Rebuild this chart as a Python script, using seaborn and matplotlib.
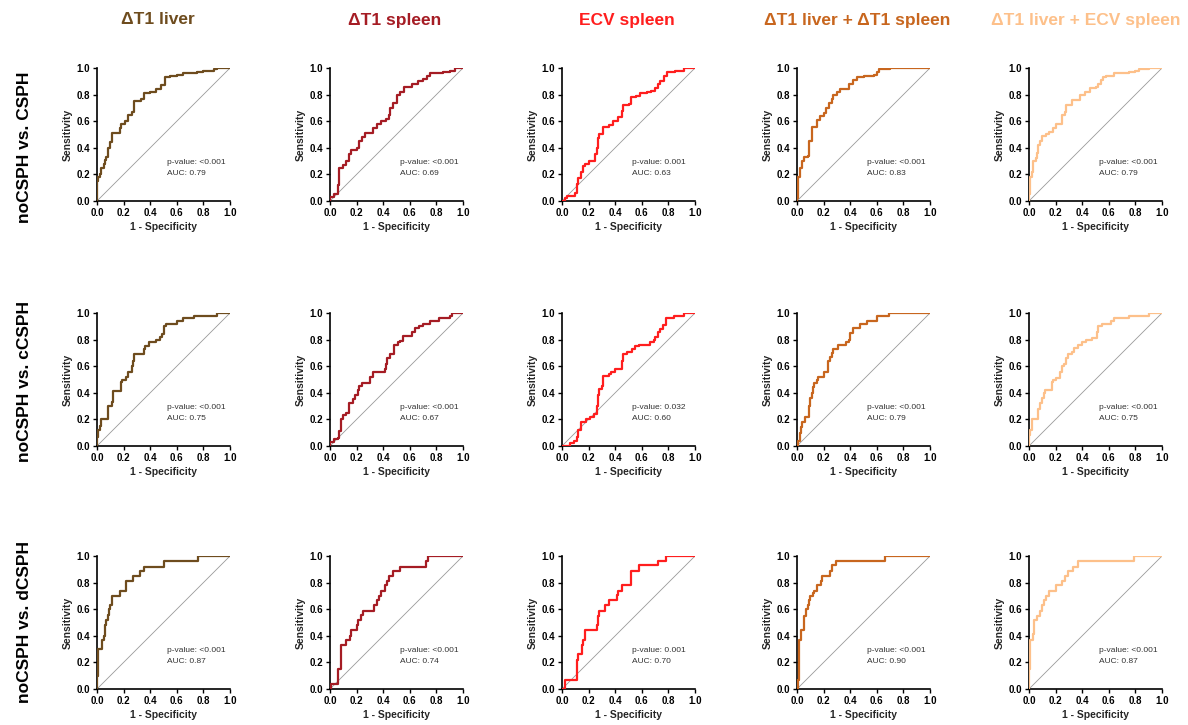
import matplotlib
matplotlib.use("Agg")
import matplotlib.pyplot as plt
import seaborn as sns
import numpy as np

sns.set_style("white")
plt.rcParams['font.family'] = ['Liberation Sans', 'DejaVu Sans']

# ---------------- data ----------------
columns = ["ΔT1 liver", "ΔT1 spleen", "ECV spleen", "ΔT1 liver + ΔT1 spleen", "ΔT1 liver + ECV spleen"]
col_colors = ["#6E4C1E", "#A51C24", "#FF1E1E", "#C8661E", "#FDC08A"]
rows = ["noCSPH vs. CSPH", "noCSPH vs. cCSPH", "noCSPH vs. dCSPH"]

p_values = [["<0.001", "<0.001", "0.001", "<0.001", "<0.001"],
            ["<0.001", "<0.001", "0.032", "<0.001", "<0.001"],
            ["<0.001", "<0.001", "0.001", "<0.001", "<0.001"]]
auc_values = [["0.79", "0.69", "0.63", "0.83", "0.79"],
              ["0.75", "0.67", "0.60", "0.79", "0.75"],
              ["0.87", "0.74", "0.70", "0.90", "0.87"]]

# Row 1: noCSPH vs. CSPH  (x = 1 - specificity where sensitivity jumps, y = new sensitivity)
fpr_r1_liver = [0, 0, 0.01, 0.02, 0.03, 0.05, 0.06, 0.07, 0.08, 0.10, 0.11, 0.17, 0.18, 0.21, 0.23, 0.26, 0.28, 0.33, 0.35, 0.40, 0.44, 0.48, 0.51, 0.55, 0.60, 0.65, 0.75, 0.80, 0.88, 0.90, 1.0]
tpr_r1_liver = [0, 0.15, 0.18, 0.20, 0.25, 0.28, 0.31, 0.33, 0.40, 0.44, 0.51, 0.55, 0.58, 0.60, 0.65, 0.67, 0.75, 0.77, 0.81, 0.82, 0.84, 0.87, 0.93, 0.94, 0.95, 0.96, 0.97, 0.98, 0.99, 1.0, 1.0]
fpr_r1_spleen = [0, 0, 0.03, 0.06, 0.07, 0.10, 0.12, 0.14, 0.16, 0.20, 0.22, 0.24, 0.26, 0.32, 0.33, 0.35, 0.38, 0.42, 0.44, 0.45, 0.47, 0.50, 0.53, 0.56, 0.62, 0.66, 0.70, 0.73, 0.75, 0.85, 0.90, 0.94, 1.0]
tpr_r1_spleen = [0, 0.03, 0.05, 0.12, 0.25, 0.27, 0.30, 0.35, 0.38, 0.40, 0.45, 0.48, 0.51, 0.55, 0.55, 0.58, 0.60, 0.62, 0.65, 0.70, 0.74, 0.80, 0.82, 0.86, 0.88, 0.90, 0.92, 0.94, 0.96, 0.97, 0.98, 1.0, 1.0]
fpr_r1_ecv = [0, 0.02, 0.04, 0.10, 0.11, 0.12, 0.14, 0.16, 0.17, 0.20, 0.25, 0.26, 0.27, 0.28, 0.31, 0.35, 0.38, 0.42, 0.45, 0.46, 0.50, 0.52, 0.56, 0.59, 0.64, 0.67, 0.70, 0.72, 0.74, 0.77, 0.79, 0.85, 0.92, 1.0]
tpr_r1_ecv = [0, 0.02, 0.04, 0.06, 0.13, 0.17, 0.22, 0.26, 0.28, 0.30, 0.35, 0.40, 0.47, 0.50, 0.56, 0.57, 0.60, 0.63, 0.68, 0.72, 0.73, 0.78, 0.79, 0.81, 0.82, 0.83, 0.85, 0.88, 0.90, 0.94, 0.97, 0.98, 1.0, 1.0]
fpr_r1_comb1 = [0, 0, 0.01, 0.02, 0.04, 0.05, 0.08, 0.09, 0.11, 0.15, 0.17, 0.20, 0.22, 0.24, 0.26, 0.27, 0.30, 0.32, 0.39, 0.42, 0.45, 0.50, 0.58, 0.60, 0.62, 0.70, 1.0]
tpr_r1_comb1 = [0, 0.02, 0.18, 0.25, 0.30, 0.33, 0.34, 0.45, 0.56, 0.61, 0.64, 0.66, 0.70, 0.74, 0.77, 0.80, 0.82, 0.84, 0.88, 0.91, 0.93, 0.94, 0.95, 0.97, 0.99, 1.0, 1.0]
fpr_r1_comb2 = [0, 0, 0.01, 0.02, 0.03, 0.05, 0.06, 0.07, 0.08, 0.10, 0.13, 0.15, 0.18, 0.20, 0.25, 0.27, 0.28, 0.32, 0.38, 0.42, 0.46, 0.50, 0.52, 0.54, 0.56, 0.58, 0.64, 0.75, 0.80, 0.83, 0.90, 1.0]
tpr_r1_comb2 = [0, 0.05, 0.18, 0.22, 0.30, 0.32, 0.36, 0.42, 0.45, 0.49, 0.50, 0.52, 0.55, 0.58, 0.65, 0.67, 0.72, 0.76, 0.80, 0.82, 0.85, 0.86, 0.88, 0.91, 0.93, 0.94, 0.96, 0.97, 0.98, 0.99, 1.0, 1.0]

# Row 2: noCSPH vs. cCSPH
fpr_r2_liver = [0, 0, 0.01, 0.02, 0.03, 0.08, 0.11, 0.12, 0.18, 0.19, 0.22, 0.23, 0.26, 0.27, 0.28, 0.35, 0.36, 0.39, 0.44, 0.47, 0.49, 0.50, 0.52, 0.60, 0.65, 0.73, 0.90, 1.0]
tpr_r2_liver = [0, 0.07, 0.12, 0.15, 0.20, 0.30, 0.33, 0.41, 0.48, 0.50, 0.52, 0.56, 0.60, 0.64, 0.69, 0.73, 0.75, 0.78, 0.80, 0.82, 0.84, 0.90, 0.92, 0.94, 0.96, 0.98, 1.0, 1.0]
fpr_r2_spleen = [0, 0, 0.03, 0.06, 0.07, 0.08, 0.10, 0.12, 0.14, 0.17, 0.19, 0.21, 0.22, 0.24, 0.30, 0.32, 0.41, 0.42, 0.43, 0.45, 0.48, 0.51, 0.53, 0.55, 0.62, 0.64, 0.67, 0.70, 0.75, 0.82, 0.90, 0.92, 1.0]
tpr_r2_spleen = [0, 0.03, 0.05, 0.06, 0.11, 0.20, 0.23, 0.25, 0.32, 0.35, 0.38, 0.42, 0.45, 0.47, 0.52, 0.56, 0.58, 0.62, 0.66, 0.69, 0.76, 0.78, 0.79, 0.83, 0.86, 0.89, 0.90, 0.92, 0.94, 0.96, 0.98, 1.0, 1.0]
fpr_r2_ecv = [0, 0.06, 0.09, 0.11, 0.12, 0.14, 0.18, 0.21, 0.24, 0.26, 0.27, 0.28, 0.30, 0.31, 0.35, 0.37, 0.40, 0.45, 0.46, 0.49, 0.53, 0.55, 0.58, 0.66, 0.69, 0.70, 0.72, 0.74, 0.76, 0.78, 0.84, 0.92, 1.0]
tpr_r2_ecv = [0, 0.02, 0.04, 0.07, 0.12, 0.18, 0.20, 0.22, 0.24, 0.30, 0.38, 0.43, 0.45, 0.53, 0.54, 0.56, 0.58, 0.64, 0.69, 0.71, 0.73, 0.75, 0.76, 0.78, 0.80, 0.82, 0.86, 0.88, 0.91, 0.96, 0.98, 1.0, 1.0]
fpr_r2_comb1 = [0, 0.01, 0.02, 0.03, 0.04, 0.06, 0.09, 0.10, 0.11, 0.12, 0.13, 0.15, 0.16, 0.20, 0.23, 0.25, 0.26, 0.27, 0.31, 0.37, 0.39, 0.40, 0.42, 0.47, 0.53, 0.60, 0.69, 1.0]
tpr_r2_comb1 = [0, 0.04, 0.10, 0.14, 0.18, 0.22, 0.30, 0.36, 0.40, 0.44, 0.47, 0.50, 0.52, 0.56, 0.64, 0.67, 0.70, 0.73, 0.76, 0.78, 0.80, 0.85, 0.89, 0.92, 0.94, 0.98, 1.0, 1.0]
fpr_r2_comb2 = [0, 0, 0.01, 0.02, 0.07, 0.08, 0.10, 0.11, 0.12, 0.17, 0.18, 0.20, 0.23, 0.25, 0.26, 0.28, 0.29, 0.32, 0.34, 0.37, 0.40, 0.43, 0.47, 0.51, 0.52, 0.55, 0.62, 0.64, 0.75, 0.90, 1.0]
tpr_r2_comb2 = [0, 0.08, 0.12, 0.20, 0.28, 0.32, 0.36, 0.40, 0.42, 0.48, 0.50, 0.51, 0.56, 0.60, 0.62, 0.66, 0.69, 0.71, 0.74, 0.76, 0.78, 0.80, 0.81, 0.86, 0.90, 0.92, 0.94, 0.96, 0.98, 1.0, 1.0]

# Row 3: noCSPH vs. dCSPH
fpr_r3_liver = [0, 0, 0.005, 0.04, 0.05, 0.06, 0.07, 0.08, 0.09, 0.10, 0.11, 0.17, 0.22, 0.27, 0.32, 0.35, 0.50, 0.76, 1.0]
tpr_r3_liver = [0, 0.10, 0.30, 0.37, 0.40, 0.48, 0.52, 0.56, 0.60, 0.63, 0.70, 0.74, 0.81, 0.85, 0.89, 0.92, 0.96, 1.0, 1.0]
fpr_r3_spleen = [0, 0.01, 0.06, 0.08, 0.12, 0.15, 0.16, 0.20, 0.21, 0.23, 0.25, 0.33, 0.35, 0.37, 0.38, 0.41, 0.43, 0.44, 0.47, 0.53, 0.72, 0.74, 1.0]
tpr_r3_spleen = [0, 0.04, 0.15, 0.33, 0.37, 0.40, 0.44, 0.48, 0.52, 0.56, 0.59, 0.63, 0.67, 0.70, 0.74, 0.78, 0.81, 0.85, 0.89, 0.92, 0.96, 1.0, 1.0]
fpr_r3_ecv = [0, 0.02, 0.11, 0.12, 0.15, 0.16, 0.17, 0.26, 0.27, 0.28, 0.32, 0.35, 0.41, 0.42, 0.45, 0.52, 0.58, 0.72, 0.78, 1.0]
tpr_r3_ecv = [0, 0.07, 0.22, 0.26, 0.33, 0.37, 0.44, 0.48, 0.55, 0.59, 0.63, 0.67, 0.71, 0.74, 0.78, 0.89, 0.93, 0.96, 1.0, 1.0]
fpr_r3_comb1 = [0, 0.005, 0.015, 0.03, 0.05, 0.07, 0.08, 0.09, 0.10, 0.12, 0.13, 0.15, 0.18, 0.19, 0.25, 0.26, 0.29, 0.66, 1.0]
tpr_r3_comb1 = [0, 0.07, 0.37, 0.44, 0.55, 0.60, 0.63, 0.67, 0.70, 0.72, 0.74, 0.78, 0.81, 0.85, 0.89, 0.93, 0.96, 1.0, 1.0]
fpr_r3_comb2 = [0, 0, 0.005, 0.01, 0.03, 0.04, 0.06, 0.08, 0.10, 0.11, 0.13, 0.15, 0.20, 0.25, 0.27, 0.29, 0.33, 0.37, 0.79, 1.0]
tpr_r3_comb2 = [0, 0.15, 0.26, 0.37, 0.41, 0.52, 0.55, 0.59, 0.63, 0.67, 0.70, 0.74, 0.78, 0.81, 0.85, 0.89, 0.92, 0.96, 1.0, 1.0]

curves = [
    [(fpr_r1_liver, tpr_r1_liver), (fpr_r1_spleen, tpr_r1_spleen), (fpr_r1_ecv, tpr_r1_ecv), (fpr_r1_comb1, tpr_r1_comb1), (fpr_r1_comb2, tpr_r1_comb2)],
    [(fpr_r2_liver, tpr_r2_liver), (fpr_r2_spleen, tpr_r2_spleen), (fpr_r2_ecv, tpr_r2_ecv), (fpr_r2_comb1, tpr_r2_comb1), (fpr_r2_comb2, tpr_r2_comb2)],
    [(fpr_r3_liver, tpr_r3_liver), (fpr_r3_spleen, tpr_r3_spleen), (fpr_r3_ecv, tpr_r3_ecv), (fpr_r3_comb1, tpr_r3_comb1), (fpr_r3_comb2, tpr_r3_comb2)],
]
ticks = [0.0, 0.2, 0.4, 0.6, 0.8, 1.0]
tick_labels = ["0.0", "0.2", "0.4", "0.6", "0.8", "1.0"]

# ---------------- layout ----------------
W, H = 1188, 725
fig = plt.figure(figsize=(W / 100, H / 100), dpi=100)
col_left_px = [97, 330, 562, 797, 1029]
row_bottom_px = [201, 446, 689]
size_px = 133

for r in range(3):
    for c in range(5):
        ax = fig.add_axes([col_left_px[c] / W, 1 - row_bottom_px[r] / H, size_px / W, size_px / H])
        fpr, tpr = curves[r][c]
        ax.plot([0, 1], [0, 1], color="#9a9a9a", lw=0.6, zorder=1)
        sns.lineplot(x=fpr, y=tpr, estimator=None, sort=False, drawstyle="steps-post",
                     color=col_colors[c], lw=1.6, ax=ax, zorder=3)
        ax.set_xlim(0, 1.0)
        ax.set_ylim(0, 1.0)
        ax.set_xticks(ticks)
        ax.set_xticklabels(tick_labels)
        ax.set_yticks(ticks)
        ax.set_yticklabels(tick_labels)
        for s in ["top", "right"]:
            ax.spines[s].set_visible(False)
        for s in ["left", "bottom"]:
            ax.spines[s].set_linewidth(1.2)
            ax.spines[s].set_color("black")
        ax.tick_params(axis="both", which="both", direction="out", length=3, width=1.0,
                       labelsize=7, pad=2, bottom=True, left=True, colors="black")
        for lab in ax.get_xticklabels() + ax.get_yticklabels():
            lab.set_fontweight("bold")
        ax.set_xlabel("1 - Specificity", fontsize=7.5, fontweight="bold", labelpad=3)
        ax.set_ylabel("Sensitivity", fontsize=7.5, fontweight="bold", labelpad=3)
        ax.text(0.53, 0.29, f"p-value: {p_values[r][c]}", fontsize=6, color="#333333",
                va="center", ha="left")
        ax.text(0.53, 0.21, f"AUC: {auc_values[r][c]}", fontsize=6, color="#333333",
                va="center", ha="left")

title_x_px = [158, 395, 627, 857, 1086]
for c in range(5):
    fig.text(title_x_px[c] / W, 1 - 20 / H, columns[c], ha="center", va="center",
             fontsize=12.5, fontweight="bold", color=col_colors[c])

row_y_px = [147, 381, 622]
for r in range(3):
    fig.text(25 / W, 1 - row_y_px[r] / H, rows[r], ha="center", va="center", rotation=90,
             fontsize=12.5, fontweight="bold", color="black")

fig.savefig("out.png", dpi=100, facecolor="white")
